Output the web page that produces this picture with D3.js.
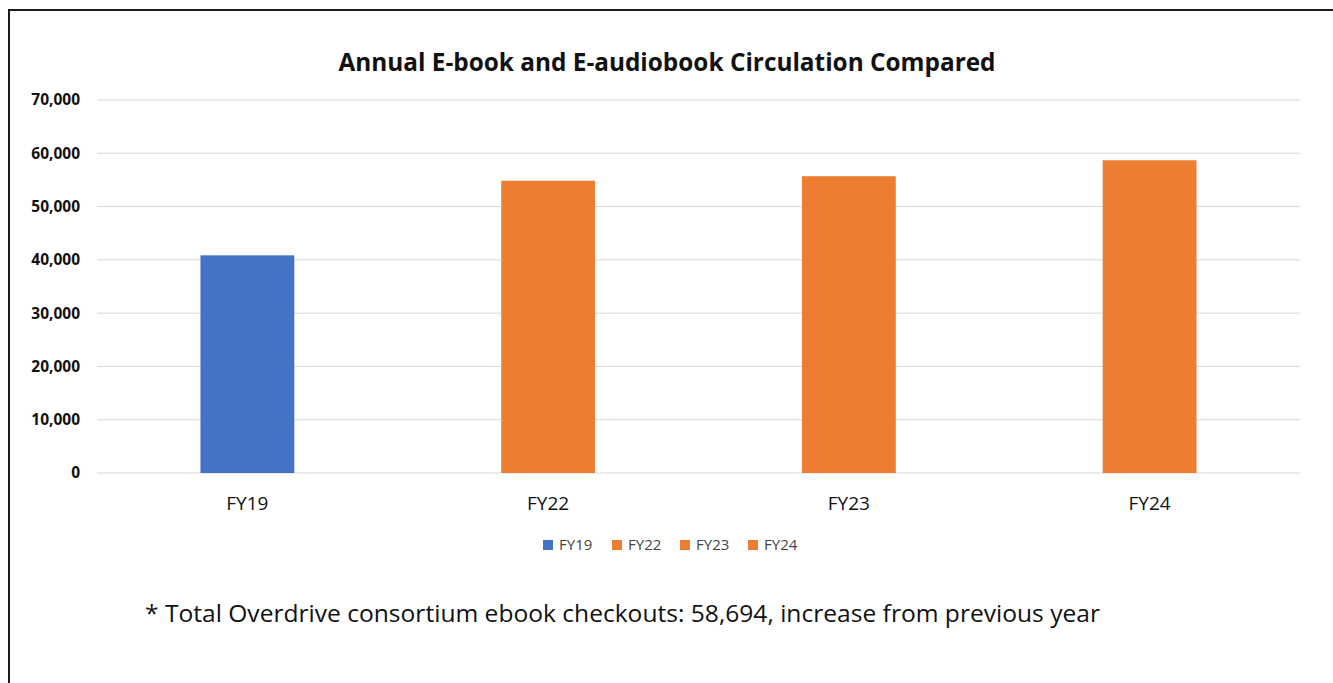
<!DOCTYPE html>
<html><head><meta charset="utf-8">
<script src="https://cdn.jsdelivr.net/npm/d3@7"></script>
<style>body{margin:0;background:#fff;}svg{display:block;font-family:"Open Sans","Liberation Sans",sans-serif;}</style>
</head><body>
<script>
const categories = ["FY19","FY22","FY23","FY24"];
const values = [40850, 54850, 55700, 58694];
const colors = ["#4472C4","#ED7D31","#ED7D31","#ED7D31"];
const yTicks = [0,10000,20000,30000,40000,50000,60000,70000];
const title = "Annual E-book and E-audiobook Circulation Compared";
const footnote = "* Total Overdrive consortium ebook checkouts: 58,694, increase from previous year";

const W = 1333, H = 683;
const svg = d3.select("body").append("svg").attr("width", W).attr("height", H);

// frame
svg.append("path").attr("d", `M9,${H} L9,10 L${W},10`).attr("fill","none").attr("stroke","#1a1a1a").attr("stroke-width",2);

const x = d3.scaleBand().domain(categories).range([97, 1300]).paddingInner(0.688).paddingOuter(0.344);
const y = d3.scaleLinear().domain([0,70000]).range([473, 100]);

svg.append("text").attr("x", 667).attr("y", 71).attr("text-anchor","middle")
  .attr("font-size", 24.5).attr("font-weight","bold").attr("fill","#111")
  .attr("textLength", 657).attr("lengthAdjust","spacingAndGlyphs").text(title);

// gridlines
svg.append("g").selectAll("line").data(yTicks).join("line")
  .attr("x1", 97).attr("x2", 1300).attr("y1", d=>y(d)).attr("y2", d=>y(d))
  .attr("stroke", "#d9d9d9").attr("stroke-width", 1);

// y axis
const yAxis = d3.axisLeft(y).tickValues(yTicks).tickSize(0).tickPadding(0).tickFormat(d3.format(","));
const ya = svg.append("g").attr("transform","translate(80,0)").call(yAxis);
ya.select(".domain").remove();
ya.selectAll("text").attr("font-size",15.5).attr("font-weight","bold").attr("fill","#111").attr("font-family","'Open Sans',sans-serif");

// bars
svg.append("g").selectAll("rect").data(categories).join("rect")
  .attr("x", d=>x(d)).attr("width", x.bandwidth())
  .attr("y", (d,i)=>y(values[i])).attr("height", (d,i)=>y(0)-y(values[i]))
  .attr("fill", (d,i)=>colors[i]);

// x axis
const xAxis = d3.axisBottom(x).tickSize(0).tickPadding(0);
const xa = svg.append("g").attr("transform","translate(0,496)").call(xAxis);
xa.select(".domain").remove();
xa.selectAll("text").attr("font-size",19).attr("fill","#111").attr("dy","0.71em").attr("font-family","'Open Sans',sans-serif");

// legend
const legendX = [543, 612, 680, 748];
const lg = svg.append("g").selectAll("g").data(categories).join("g")
  .attr("transform",(d,i)=>`translate(${legendX[i]},545)`);
lg.append("rect").attr("x",0).attr("y",-5).attr("width",10).attr("height",10).attr("fill",(d,i)=>colors[i]);
lg.append("text").attr("x",16).attr("y",0).attr("dy","0.35em").attr("font-size",15).attr("fill","#444").text(d=>d);

svg.append("text").attr("x",145).attr("y",622).attr("font-size",24.5).attr("fill","#111")
  .attr("textLength", 955).attr("lengthAdjust","spacingAndGlyphs").text(footnote);
</script>
</body></html>
